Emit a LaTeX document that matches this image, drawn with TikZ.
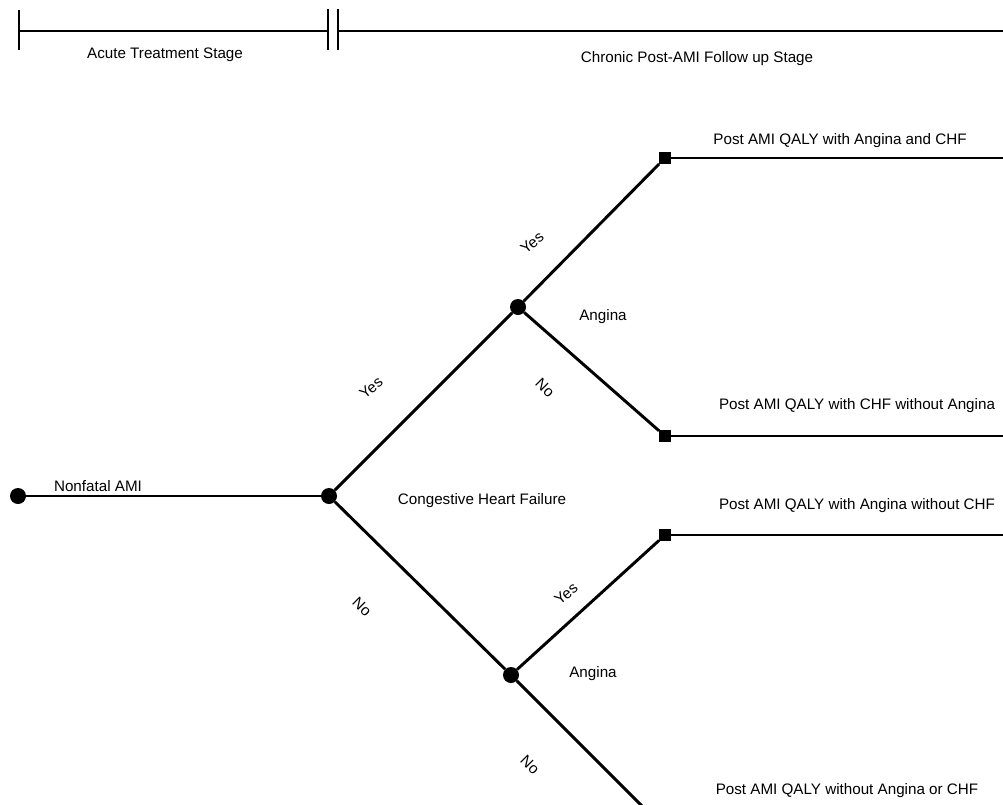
\documentclass[tikz,border=0pt]{standalone}
\usepackage{fontspec}
\setmainfont{Liberation Sans}
\tikzset{
  chance/.style={circle,fill=black,inner sep=0pt,minimum size=12pt},
  term/.style={rectangle,fill=black,inner sep=0pt,minimum size=8.5pt},
  branch/.style={line width=2.2pt},
  leaf/.style={line width=1.1pt},
  lbl/.style={font=\fontsize{11.4}{13}\selectfont,inner sep=0pt}
}
\begin{document}
\begin{tikzpicture}[x=0.75pt,y=-0.75pt]
\useasboundingbox (0,0) rectangle (1003,804);

% time line
\draw[leaf] (19,10) -- (19,50);
\draw[leaf] (19,31) -- (328,31);
\draw[leaf] (328,9) -- (328,50);
\draw[leaf] (338,9) -- (338,50);
\draw[leaf] (338,31) -- (1003,31);
\node[lbl] (acute) at (165,55) {Acute Treatment Stage};
\node[lbl] (chronic) at (697,59) {Chronic Post-AMI Follow up Stage};

% tree
\node[chance] (root) at (18,496) {};
\node[chance] (chf) at (329,496) {};
\node[chance] (angY) at (518,307) {};
\node[chance] (angN) at (511,675) {};
\node[term] (tAC) at (665,158) {};
\node[term] (tC) at (665,436) {};
\node[term] (tA) at (665,535) {};
\coordinate (tNone) at (652,816);
\coordinate (eAC) at (1003,158);
\coordinate (eC) at (1003,436);
\coordinate (eA) at (1003,535);

\draw[line width=1.6pt] (root) -- (chf);
\draw[branch] (chf) -- (angY);
\draw[branch] (chf) -- (angN);
\draw[branch] (angY) -- (tAC);
\draw[branch] (angY) -- (tC);
\draw[branch] (angN) -- (tA);
\draw[branch] (angN) -- (tNone);
\draw[leaf] (tAC) -- (eAC);
\draw[leaf] (tC) -- (eC);
\draw[leaf] (tA) -- (eA);

\node[lbl] (lroot) at (98,486) {Nonfatal AMI};
\node[lbl] (lchf) at (482,501) {Congestive Heart Failure};
\node[lbl] (langY) at (603,317) {Angina};
\node[lbl] (langN) at (593,674) {Angina};

\node[lbl,rotate=40] (y1) at (371,388) {Yes};
\node[lbl,rotate=-45] (n1) at (362,607) {No};
\node[lbl,rotate=40] (y2) at (532,243) {Yes};
\node[lbl,rotate=-45] (n2) at (545,388) {No};
\node[lbl,rotate=40] (y3) at (566,594) {Yes};
\node[lbl,rotate=-45] (n3) at (530,765) {No};

\node[lbl] (lAC) at (840,141) {Post AMI QALY with Angina and CHF};
\node[lbl] (lC) at (857,406) {Post AMI QALY with CHF without Angina};
\node[lbl] (lA) at (857,506) {Post AMI QALY with Angina without CHF};
\node[lbl] (lNone) at (847,791) {Post AMI QALY without Angina or CHF};

\end{tikzpicture}
\end{document}
